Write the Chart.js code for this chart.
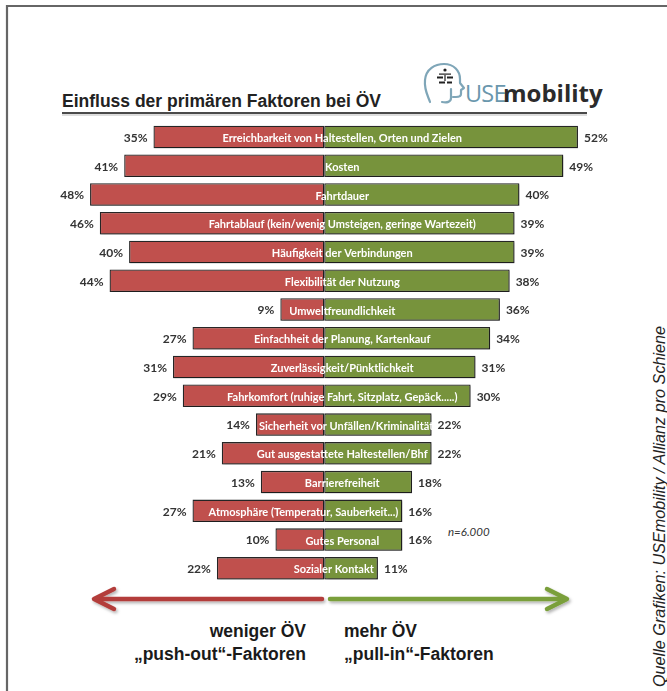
<!DOCTYPE html>
<html lang="de">
<head>
<meta charset="utf-8">
<title>Einfluss der primären Faktoren bei ÖV</title>
<script src="https://cdn.jsdelivr.net/npm/chart.js@4.4.1/dist/chart.umd.min.js"></script>
<style>
  html, body { margin: 0; padding: 0; background: #fff; }
  #wrap { position: relative; width: 667px; height: 691px; overflow: hidden; background: #fff; }
  #deko, #chart { position: absolute; left: 0; top: 0; }
</style>
</head>
<body>
<div id="wrap">
  <svg id="deko" width="667" height="691" xmlns="http://www.w3.org/2000/svg">
    <defs>
      <filter id="schatten" x="-10%" y="-50%" width="120%" height="250%">
        <feDropShadow dx="1.5" dy="2" stdDeviation="1.5" flood-color="#000" flood-opacity="0.3"/>
      </filter>
    </defs>
    <!-- Rahmen -->
    <path d="M7 691 L7 6 L667 6" fill="none" stroke="#666" stroke-width="2.2"/>

    <!-- Titel -->
    <text x="62" y="107" font-family="'Liberation Sans', Arial, sans-serif" font-weight="bold" font-size="17.5" fill="#222">Einfluss der primären Faktoren bei ÖV</text>
    <line x1="62" y1="115" x2="587" y2="115" stroke="#ddd" stroke-width="2"/>
    <line x1="62" y1="113" x2="587" y2="113" stroke="#4a4a4a" stroke-width="2"/>

    <!-- Logo USEmobility -->
    <g transform="translate(420,60)" fill="none" stroke="#7fa6b8" stroke-width="2.2" stroke-linecap="round" stroke-linejoin="round">
      <path d="M10 42 C8 36, 4 30, 5 20 C6 9, 15 4, 24 4 C34 4, 40 11, 40 19 L40 23 L44 28 L41 30 L41 34 C41 36, 39 37, 36 37 L33 37"/>
      <path d="M31 29 L31 38 C31 42, 27 43, 22 42"/>
    </g>
    <g transform="translate(420,60)" fill="#222">
      <circle cx="25" cy="10" r="1.6"/>
      <rect x="19" y="13.5" width="12" height="1.2"/>
      <rect x="17" y="16.5" width="6" height="2"/>
      <rect x="27" y="16.5" width="6" height="2"/>
      <rect x="24.4" y="15" width="1.2" height="6"/>
      <rect x="19" y="21.5" width="6" height="2"/>
      <rect x="27" y="21.5" width="5" height="2"/>
    </g>
    <text x="465" y="101.5" font-family="'Open Sans', sans-serif" font-size="23.5" letter-spacing="-0.8" fill="#6a97ad">USE</text>
    <text x="503" y="101.5" font-family="'Open Sans', sans-serif" font-weight="bold" font-size="24" fill="#2b2b2b">mobility</text>

    <!-- Pfeile -->
    <g fill="none" stroke-width="4.5" stroke-linecap="round" stroke-linejoin="round" filter="url(#schatten)">
      <line x1="96" y1="599" x2="322" y2="599" stroke="#b33c3a"/>
      <polyline points="114,589 94,599 114,609" stroke="#b33c3a"/>
      <line x1="330" y1="599" x2="565" y2="599" stroke="#7a9f3b"/>
      <polyline points="547,589 567,599 547,609" stroke="#7a9f3b"/>
    </g>

    <!-- Beschriftung unten -->
    <g font-family="'Liberation Sans', Arial, sans-serif" font-weight="bold" font-size="17.5" fill="#1a1a1a">
      <text x="306" y="637" text-anchor="end">weniger ÖV</text>
      <text x="306" y="660" text-anchor="end">„push-out“-Faktoren</text>
      <text x="344" y="637">mehr ÖV</text>
      <text x="344" y="660">„pull-in“-Faktoren</text>
    </g>

    <text x="448" y="536" font-family="Lato, sans-serif" font-style="italic" font-size="11.5" fill="#333">n=6.000</text>

    <!-- Quelle -->
    <text transform="translate(665,687) rotate(-90)" font-family="'Liberation Sans', Arial, sans-serif" font-style="italic" font-size="16.2" fill="#222">Quelle Grafiken: USEmobility / Allianz pro Schiene</text>
  </svg>
  <canvas id="chart" width="667" height="691"></canvas>
</div>

<script>
// Kategorien (von oben nach unten)
const categories = [
  "Erreichbarkeit von Haltestellen, Orten und Zielen",
  "Kosten",
  "Fahrtdauer",
  "Fahrtablauf (kein/wenig Umsteigen, geringe Wartezeit)",
  "Häufigkeit der Verbindungen",
  "Flexibilität der Nutzung",
  "Umweltfreundlichkeit",
  "Einfachheit der Planung, Kartenkauf",
  "Zuverlässigkeit/Pünktlichkeit",
  "Fahrkomfort (ruhige Fahrt, Sitzplatz, Gepäck.....)",
  "Sicherheit vor Unfällen/Kriminalität",
  "Gut ausgestattete Haltestellen/Bhf",
  "Barrierefreiheit",
  "Atmosphäre (Temperatur, Sauberkeit...)",
  "Gutes Personal",
  "Sozialer Kontakt"
];

// weniger ÖV – „push-out“-Faktoren (in %)
const pushOut = [35, 41, 48, 46, 40, 44, 9, 27, 31, 29, 14, 21, 13, 27, 10, 22];

// mehr ÖV – „pull-in“-Faktoren (in %)
const pullIn = [52, 49, 40, 39, 39, 38, 36, 34, 31, 30, 22, 22, 18, 16, 16, 11];

const pushLabels = pushOut.map(v => v + "%");
const pullLabels = pullIn.map(v => v + "%");

// Schatten unter den Balken + Beschriftungen
const barTexts = {
  id: "barTexts",
  beforeDatasetsDraw(chart) {
    const ctx = chart.ctx;
    ctx.save();
    ctx.shadowColor = "rgba(0, 0, 0, 0.35)";
    ctx.shadowBlur = 2;
    ctx.shadowOffsetX = 1;
    ctx.shadowOffsetY = 1.5;
  },
  afterDatasetsDraw(chart) {
    const ctx = chart.ctx;
    ctx.restore();

    const left = chart.getDatasetMeta(0).data;
    const right = chart.getDatasetMeta(1).data;
    const mitte = chart.scales.x.getPixelForValue(0);

    ctx.save();
    ctx.textBaseline = "middle";

    categories.forEach((name, i) => {
      const l = left[i];
      const r = right[i];
      const y = l.y + 1;

      // Prozentwerte aussen
      ctx.font = "bold 12px Lato, sans-serif";
      ctx.fillStyle = "#333";
      ctx.textAlign = "right";
      ctx.fillText(pushLabels[i], l.x - 6, y);
      ctx.textAlign = "left";
      ctx.fillText(pullLabels[i], r.x + 6, y);

      // Kategoriename im Balken (etwas rechts der Mitte, bleibt im Balken)
      ctx.font = "bold 11px Lato, sans-serif";
      ctx.fillStyle = "#fff";
      const w = ctx.measureText(name).width;
      let start = mitte + 18 - w / 2;
      const limit = r.x - 4;
      if (start + w > limit) {
        start = Math.max(l.x + 3, limit - w);
      }
      ctx.textAlign = "left";
      ctx.fillText(name, start, y + 0.5);
    });

    ctx.restore();
  }
};

const ctx = document.getElementById("chart").getContext("2d");

new Chart(ctx, {
  type: "bar",
  data: {
    labels: categories,
    datasets: [
      {
        label: "weniger ÖV",
        data: pushOut.map(v => -v),
        backgroundColor: "#c0504d",
        borderColor: "#262626",
        borderWidth: 1.3,
        borderSkipped: false,
        barPercentage: 0.78,
        categoryPercentage: 1
      },
      {
        label: "mehr ÖV",
        data: pullIn,
        backgroundColor: "#77933c",
        borderColor: "#262626",
        borderWidth: 1.3,
        borderSkipped: false,
        barPercentage: 0.78,
        categoryPercentage: 1
      }
    ]
  },
  options: {
    indexAxis: "y",
    responsive: false,
    animation: false,
    devicePixelRatio: 1,
    layout: {
      padding: { left: 31.5, right: 50, top: 122.6, bottom: 108.3 }
    },
    scales: {
      x: { display: false, stacked: true, min: -60, max: 60 },
      y: { display: false, stacked: true }
    },
    plugins: {
      legend: { display: false },
      tooltip: { enabled: false }
    }
  },
  plugins: [barTexts]
});
</script>
</body>
</html>
